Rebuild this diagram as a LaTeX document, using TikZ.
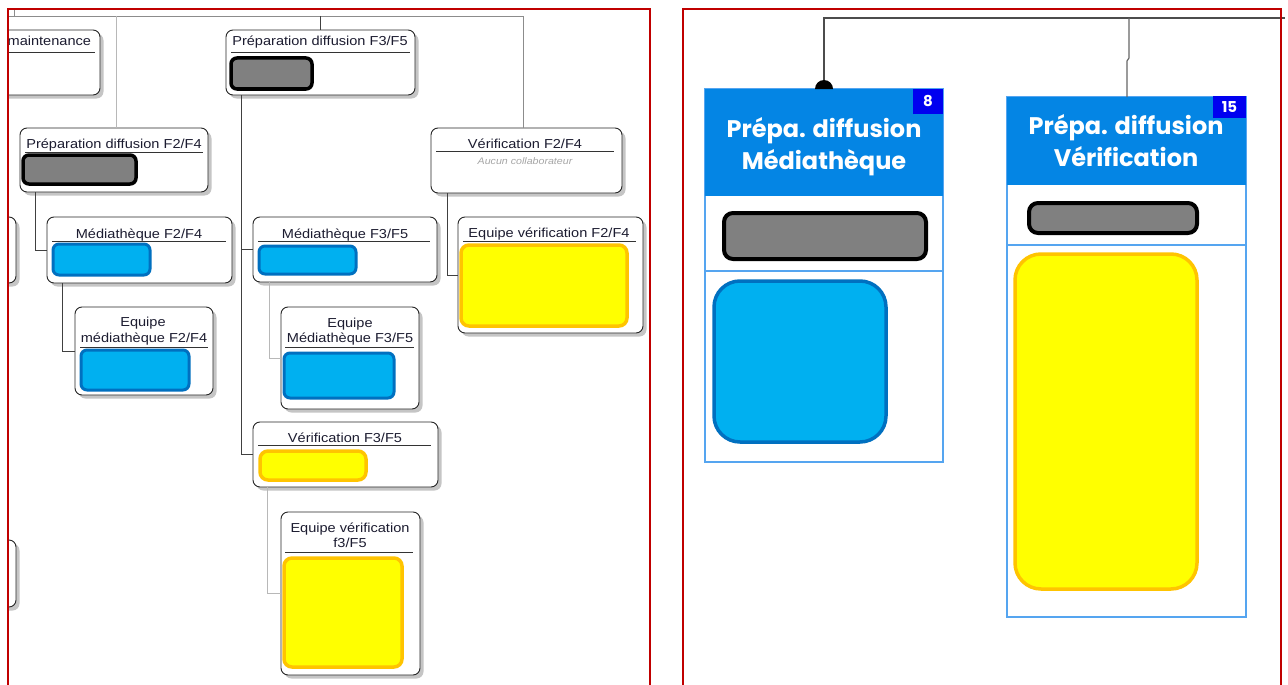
\documentclass[tikz,border=0pt]{standalone}
\usepackage{fontspec}
\setmainfont{Liberation Sans}
\newfontfamily\orgfont{Liberation Sans}[FakeStretch=1.12]
\newfontfamily\cardfont{Poppins}
\usetikzlibrary{shadows}

\definecolor{panelred}{RGB}{192,0,0}
\definecolor{barblue}{RGB}{0,176,240}
\definecolor{barblueedge}{RGB}{0,112,192}
\definecolor{baryellow}{RGB}{255,255,0}
\definecolor{baryellowedge}{RGB}{255,196,0}
\definecolor{bargray}{RGB}{128,128,128}
\definecolor{headblue}{RGB}{4,133,228}
\definecolor{badgeblue}{RGB}{0,0,240}
\definecolor{cardedge}{RGB}{85,165,240}
\definecolor{titleink}{RGB}{28,28,48}

% rectangular node given by its corners (x1,y1) and (x2,y2)
\newcommand\placebox[7][]{%
  \pgfmathsetmacro\bw{#5-#3}%
  \pgfmathsetmacro\bh{#6-#4}%
  \pgfmathsetmacro\bx{(#3+#5)/2}%
  \pgfmathsetmacro\by{(#4+#6)/2}%
  \node[#1, minimum width=\bw pt, minimum height=\bh pt] (#2) at (\bx,\by) {#7};}

\tikzset{
  every node/.style={inner sep=0pt, outer sep=0pt},
  orgcard/.style={draw=black!85, line width=0.9pt, fill=white, rounded corners=7pt,
    drop shadow={shadow xshift=3.5pt, shadow yshift=-3.5pt, fill=black!45}},
  graybar/.style={draw=black, line width=3.5pt, fill=bargray, rounded corners=6pt},
  bluebar/.style={draw=barblueedge, line width=3pt, fill=barblue, rounded corners=6pt},
  yellowbar/.style={draw=baryellowedge, line width=3.5pt, fill=baryellow, rounded corners=8pt},
  graybarR/.style={draw=black, line width=4pt, fill=bargray, rounded corners=9pt},
  bluebarR/.style={draw=barblueedge, line width=3.5pt, fill=barblue, rounded corners=26pt},
  yellowbarR/.style={draw=baryellowedge, line width=3.5pt, fill=baryellow, rounded corners=26pt},
  orgtitle/.style={font=\orgfont\fontsize{13}{15}\selectfont, text=titleink, anchor=base},
  orgnote/.style={font=\orgfont\itshape\fontsize{9.5}{11}\selectfont, text=black!35},
  uline/.style={draw=black!80, line width=0.8pt},
  darklink/.style={draw=black!75, line width=0.9pt},
  lightlink/.style={draw=black!28, line width=0.9pt},
  toplink/.style={draw=black!45, line width=0.9pt},
  cardframe/.style={draw=cardedge, line width=1.6pt, fill=white},
  cardhead/.style={fill=headblue},
  carddiv/.style={draw=cardedge, line width=1.4pt},
  badge/.style={fill=badgeblue, text=white, font=\cardfont\bfseries\fontsize{15}{16}\selectfont},
  cardtitle/.style={font=\cardfont\bfseries\fontsize{24}{28}\selectfont, text=white, anchor=base},
  mainlink/.style={draw=black!70, line width=2.2pt},
  sidelink/.style={draw=black!60, line width=1.2pt},
  frame/.style={draw=panelred, line width=1.5pt},
}

\begin{document}
\begin{tikzpicture}[x=1pt, y=-1pt]
\useasboundingbox (0,0) rectangle (1288,685);
\fill[white] (0,0) rectangle (1288,685);

% ---------------- left panel: organisation chart ----------------
\begin{scope}
\clip (8,9) rectangle (650,690);

\placebox[orgcard]{mt}{-120}{30}{100}{95}{}
\placebox[orgcard]{p35}{226}{30}{415}{95}{}
\placebox[orgcard]{p24}{20}{128}{208}{192}{}
\placebox[orgcard]{v24}{431}{128}{622}{193}{}
\placebox[orgcard]{la}{-120}{217}{16}{283}{}
\placebox[orgcard]{lb}{-120}{540}{16}{607}{}
\placebox[orgcard]{m24}{47}{217}{232}{283}{}
\placebox[orgcard]{em24}{75}{307}{213}{395}{}
\placebox[orgcard]{m35}{253}{217}{437}{282}{}
\placebox[orgcard]{em35}{281}{307}{419}{409}{}
\placebox[orgcard]{ev24}{458}{217}{643}{333}{}
\placebox[orgcard]{v35}{253}{422}{438}{487}{}
\placebox[orgcard]{ev35}{281}{512}{420}{675}{}

% titles
\node[orgtitle, anchor=base east] (mtt) at (91,46) {maintenance};
\node[orgtitle] (p35t) at (320,46) {Préparation diffusion F3/F5};
\node[orgtitle] (p24t) at (114,148) {Préparation diffusion F2/F4};
\node[orgtitle] (v24t) at (525,148) {Vérification F2/F4};
\node[orgnote] (v24s) at (525,161) {Aucun collaborateur};
\node[orgtitle] (m24t) at (139,238) {Médiathèque F2/F4};
\node[orgtitle] (em24a) at (143,326) {Equipe};
\node[orgtitle] (em24b) at (144,342) {médiathèque F2/F4};
\node[orgtitle] (m35t) at (345,238) {Médiathèque F3/F5};
\node[orgtitle] (em35a) at (350,327) {Equipe};
\node[orgtitle] (em35b) at (350,342) {Médiathèque F3/F5};
\node[orgtitle] (ev24t) at (549,237) {Equipe vérification F2/F4};
\node[orgtitle] (v35t) at (345,442) {Vérification F3/F5};
\node[orgtitle] (ev35a) at (350,532) {Equipe vérification};
\node[orgtitle] (ev35b) at (350,547) {f3/F5};

% title rules
\draw[uline] (0,52) -- (95,52);
\draw[uline] (231,52) -- (410,52);
\draw[uline] (25,152) -- (203,152);
\draw[uline] (436,151) -- (614,151);
\draw[uline] (52,241) -- (226,241);
\draw[uline] (80,347) -- (208,347);
\draw[uline] (258,241) -- (430,241);
\draw[uline] (285,347) -- (414,347);
\draw[uline] (463,241) -- (636,241);
\draw[uline] (258,445) -- (431,445);
\draw[uline] (285,552) -- (413,552);

% masked members
\placebox[graybar]{p35g}{231}{58}{312}{89}{}
\placebox[graybar]{p24g}{23}{155}{136}{184}{}
\placebox[bluebar]{m24c}{53}{244}{150}{275}{}
\placebox[bluebar]{em24c}{81}{350}{189}{390}{}
\placebox[bluebar]{m35c}{259}{246}{356}{274}{}
\placebox[bluebar]{em35c}{284}{353}{394}{398}{}
\placebox[yellowbar]{ev24c}{461}{245}{627}{326}{}
\placebox[yellowbar]{v35c}{260}{451}{366}{480}{}
\placebox[yellowbar]{ev35c}{284}{558}{402}{667}{}

% hierarchy links
\coordinate (topl) at (0,16);
\coordinate (topup) at (14,0);
\draw[toplink] (topl) -| ([xshift=-3pt]v24.north);
\draw[toplink] (topup) -- (topup |- topl);
\draw[darklink] (p35.north |- topl) -- (p35.north);
\draw[lightlink] ([xshift=2pt]p24.north |- topl) -- ([xshift=2pt]p24.north);
\draw[darklink] ([xshift=15pt]p24.south west) |- (m24.west);
\draw[darklink] ([xshift=15pt]m24.south west) |- (em24.west);
\draw[darklink] ([xshift=15pt]p35.south west) |- (v35.west);
\draw[darklink] ([xshift=15pt]p35.south west) |- (m35.west);
\draw[lightlink] ([xshift=16pt]m35.south west) |- (em35.west);
\draw[lightlink] ([xshift=14pt]v35.south west) |- (ev35.west);
\draw[darklink] ([xshift=16pt]v24.south west) |- (ev24.west);
\end{scope}

% ---------------- right panel: cards ----------------
\placebox[cardframe]{rc1}{705}{89}{943}{462}{}
\placebox[cardhead]{rc1h}{705}{89}{943}{196}{}
\draw[carddiv] (706,271) -- (942,271);
\node[cardtitle] (rc1a) at (824,137) {Prépa. diffusion};
\node[cardtitle] (rc1b) at (824,169) {Médiathèque};
\placebox[badge]{rc1n}{913}{89}{943}{114}{8}
\placebox[graybarR]{rc1g}{724}{213}{926}{259}{}
\placebox[bluebarR]{rc1c}{714}{281}{886}{442}{}

\placebox[cardframe]{rc2}{1007}{97}{1246}{617}{}
\placebox[cardhead]{rc2h}{1007}{97}{1246}{185}{}
\draw[carddiv] (1008,245) -- (1245,245);
\node[cardtitle] (rc2a) at (1126,134) {Prépa. diffusion};
\node[cardtitle] (rc2b) at (1126,166) {Vérification};
\placebox[badge]{rc2n}{1213}{96}{1246}{118}{15}
\placebox[graybarR]{rc2g}{1029}{203}{1197}{233}{}
\placebox[yellowbarR]{rc2c}{1015}{254}{1197}{589}{}

% links between the cards
\coordinate (rend) at (1285,18);
\draw[mainlink] (rc1.north) |- (rend);
\fill[black] ([xshift=-9pt]rc1.north) arc[start angle=180, end angle=0, radius=9pt] -- cycle;
\coordinate (j2a) at (1129,18);
\coordinate (j2b) at (1129,58);
\coordinate (j2c) at (1127,61);
\draw[sidelink] (j2a) -- (j2b) -- (j2c) -- (j2c |- rc2.north);

% panel frames
\draw[frame] (8,700) -- (8,9) -- (650,9) -- (650,700);
\draw[frame] (683,700) -- (683,9) -- (1281,9) -- (1281,700);
\end{tikzpicture}
\end{document}
